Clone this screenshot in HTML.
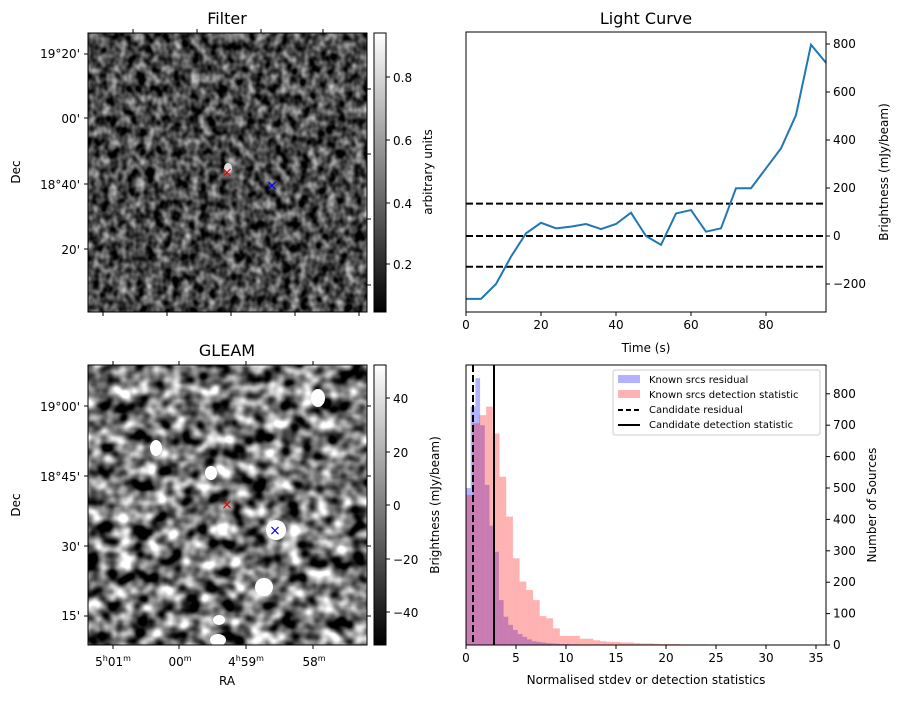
<!DOCTYPE html>
<html><head><meta charset="utf-8"><style>
body{margin:0;background:#fff;font-family:"Liberation Sans","DejaVu Sans",sans-serif;}
svg text{font-family:"DejaVu Sans","Liberation Sans",sans-serif;}
</style></head><body>
<svg id="fig" width="902" height="699" xmlns="http://www.w3.org/2000/svg">
<defs>
<filter id="fnoise" x="0" y="0" width="100%" height="100%" color-interpolation-filters="sRGB">
<feTurbulence type="fractalNoise" baseFrequency="0.11 0.095" numOctaves="2" seed="3"/>
<feColorMatrix type="matrix" values="1.25 0 0 0 -0.34  1.25 0 0 0 -0.34  1.25 0 0 0 -0.34  0 0 0 0 1"/>
</filter>
<filter id="gnoise" x="0" y="0" width="100%" height="100%" color-interpolation-filters="sRGB">
<feTurbulence type="fractalNoise" baseFrequency="0.06 0.065" numOctaves="2" seed="11"/>
<feColorMatrix type="matrix" values="2.2 0 0 0 -0.64  2.2 0 0 0 -0.64  2.2 0 0 0 -0.64  0 0 0 0 1"/>
</filter>
<linearGradient id="cb" x1="0" y1="1" x2="0" y2="0"><stop offset="0" stop-color="#000"/><stop offset="1" stop-color="#fff"/></linearGradient>
</defs>

<g>
<text x="227" y="24" font-size="16" text-anchor="middle">Filter</text>
<rect x="88" y="33" width="279" height="279" filter="url(#fnoise)"/>
<rect x="88" y="33" width="279" height="279" fill="none" stroke="#000"/>
<g font-size="12" text-anchor="end">
<text x="80" y="58">19°20'</text><text x="80" y="123">00'</text><text x="80" y="189">18°40'</text><text x="80" y="254">20'</text></g>
<text x="20" y="172" font-size="12" text-anchor="middle" transform="rotate(-90 20 172)">Dec</text>
<g stroke="#000">
<line x1="84" x2="88" y1="54" y2="54"/><line x1="84" x2="88" y1="118" y2="118"/><line x1="84" x2="88" y1="184" y2="184"/><line x1="84" x2="88" y1="249" y2="249"/>
<line x1="133" x2="133" y1="29" y2="33"/><line x1="197" x2="197" y1="29" y2="33"/><line x1="261" x2="261" y1="29" y2="33"/><line x1="323" x2="323" y1="29" y2="33"/>
<line x1="103" x2="103" y1="312" y2="316"/><line x1="167" x2="167" y1="312" y2="316"/><line x1="231" x2="231" y1="312" y2="316"/><line x1="295" x2="295" y1="312" y2="316"/><line x1="359" x2="359" y1="312" y2="316"/>
<line x1="367" x2="371" y1="89" y2="89"/><line x1="367" x2="371" y1="154" y2="154"/><line x1="367" x2="371" y1="219" y2="219"/><line x1="367" x2="371" y1="285" y2="285"/>
</g>
<ellipse cx="228" cy="168" rx="4" ry="5" fill="#ddd"/>
<g font-size="14">
<text x="227" y="177" fill="#e00" text-anchor="middle">×</text>
<text x="272" y="190" fill="#00e" text-anchor="middle">×</text></g>
<rect x="374" y="33" width="12" height="279" fill="url(#cb)" stroke="#000"/>
<g font-size="12">
<line x1="386" x2="390" y1="264" y2="264" stroke="#000"/><text x="393" y="269">0.2</text>
<line x1="386" x2="390" y1="203" y2="203" stroke="#000"/><text x="393" y="208">0.4</text>
<line x1="386" x2="390" y1="140" y2="140" stroke="#000"/><text x="393" y="145">0.6</text>
<line x1="386" x2="390" y1="77" y2="77" stroke="#000"/><text x="393" y="82">0.8</text></g>
<text x="432" y="172" font-size="12" text-anchor="middle" transform="rotate(-90 432 172)">arbitrary units</text>
</g>

<g>
<text x="227" y="356" font-size="16" text-anchor="middle">GLEAM</text>
<rect x="88" y="365" width="279" height="280" filter="url(#gnoise)"/>
<g fill="#fff">
<ellipse cx="318" cy="398" rx="7" ry="9"/><ellipse cx="156" cy="448" rx="6" ry="8"/><ellipse cx="211" cy="473" rx="6" ry="7"/>
<ellipse cx="276" cy="530" rx="10" ry="10"/><ellipse cx="264" cy="587" rx="9" ry="9"/><ellipse cx="218" cy="640" rx="8" ry="6"/><ellipse cx="219" cy="620" rx="6" ry="5"/></g>
<rect x="88" y="365" width="279" height="280" fill="none" stroke="#000"/>
<g font-size="12" text-anchor="end">
<text x="80" y="411">19°00'</text><text x="80" y="481">18°45'</text><text x="80" y="551">30'</text><text x="80" y="620">15'</text></g>
<text x="20" y="505" font-size="12" text-anchor="middle" transform="rotate(-90 20 505)">Dec</text>
<g font-size="12" text-anchor="middle">
<text x="113" y="666">5<tspan font-size="8" dy="-5">h</tspan><tspan dy="5">01</tspan><tspan font-size="8" dy="-5">m</tspan></text>
<text x="180" y="666">00<tspan font-size="8" dy="-5">m</tspan></text>
<text x="246" y="666">4<tspan font-size="8" dy="-5">h</tspan><tspan dy="5">59</tspan><tspan font-size="8" dy="-5">m</tspan></text>
<text x="314" y="666">58<tspan font-size="8" dy="-5">m</tspan></text></g>
<text x="227" y="685" font-size="12" text-anchor="middle">RA</text>
<g stroke="#000">
<line x1="84" x2="88" y1="406" y2="406"/><line x1="84" x2="88" y1="476" y2="476"/><line x1="84" x2="88" y1="546" y2="546"/><line x1="84" x2="88" y1="616" y2="616"/>
<line x1="367" x2="371" y1="406" y2="406"/><line x1="367" x2="371" y1="476" y2="476"/><line x1="367" x2="371" y1="546" y2="546"/><line x1="367" x2="371" y1="616" y2="616"/>
<line x1="113" x2="113" y1="645" y2="649"/><line x1="179" x2="179" y1="645" y2="649"/><line x1="246" x2="246" y1="645" y2="649"/><line x1="313" x2="313" y1="645" y2="649"/>
<line x1="113" x2="113" y1="361" y2="365"/><line x1="179" x2="179" y1="361" y2="365"/><line x1="246" x2="246" y1="361" y2="365"/><line x1="313" x2="313" y1="361" y2="365"/>
</g>
<g font-size="14">
<text x="227" y="509" fill="#e00" text-anchor="middle">×</text>
<text x="275" y="535" fill="#00e" text-anchor="middle">×</text></g>
<rect x="374" y="365" width="12" height="280" fill="url(#cb)" stroke="#000"/>
<g font-size="12">
<line x1="386" x2="390" y1="398" y2="398" stroke="#000"/><text x="393" y="403">40</text>
<line x1="386" x2="390" y1="452" y2="452" stroke="#000"/><text x="393" y="457">20</text>
<line x1="386" x2="390" y1="505" y2="505" stroke="#000"/><text x="393" y="510">0</text>
<line x1="386" x2="390" y1="559" y2="559" stroke="#000"/><text x="393" y="564">−20</text>
<line x1="386" x2="390" y1="612" y2="612" stroke="#000"/><text x="393" y="617">−40</text></g>
<text x="439" y="505" font-size="12" text-anchor="middle" transform="rotate(-90 439 505)">Brightness (mJy/beam)</text>
</g>

<g id="lc"></g>
<g id="hist"></g>
</svg>
<script>
const lcTimes=[0,4,8,12,16,20,24,28,32,36,40,44,48,52,56,60,64,68,72,76,80,84,88,92,96];
const lcValues=[-262,-262,-200,-86,11,55,32,39,50,29,50,97,0,-37,94,108,18,32,199,199,282,365,504,797,722];
const lcThresholds=[135,0,-128];
const lcYTicks=[-200,0,200,400,600,800];
const lcXTicks=[0,20,40,60,80];

const blueBinWidth=0.47;
const blueCounts=[500,759,850,700,510,380,297,143,90,64,48,35,26,18,12,10,8,6,5,4,3,3,2,2,1,1];
const redBinWidth=0.67;
const redCounts=[478,706,732,759,674,536,409,276,202,175,143,92,85,53,29,29,29,20,20,15,12,10,10,8,8,6,5,5,4,3,3,3,2,2,2,2,1,1,1,1,1,1,1,1,1,1,1,1,0,0,1];
const candResidual=0.7;
const candDetection=2.8;
const histXTicks=[0,5,10,15,20,25,30,35];
const histYTicks=[0,100,200,300,400,500,600,700,800];

const NS='http://www.w3.org/2000/svg';
function mk(parent,tag,attrs,txt){const e=document.createElementNS(NS,tag);for(const k in attrs)e.setAttribute(k,attrs[k]);if(txt!==undefined)e.textContent=txt;parent.appendChild(e);return e;}

(function(){
const g=document.getElementById('lc');
const L=466,R=826,T=32,B=312;
const xs=t=>L+(t-0)/(96-0)*(R-L);
const ys=v=>236-v*0.24;
mk(g,'text',{x:(L+R)/2,y:24,'font-size':16,'text-anchor':'middle',},'Light Curve');
lcThresholds.forEach(v=>{
 const l=mk(g,'line',{x1:L,x2:R,y1:ys(v),y2:ys(v),stroke:'#000','stroke-width':2,'stroke-dasharray':'7,3'});
 
 
});
const pts=lcTimes.map((t,i)=>xs(t)+','+ys(lcValues[i])).join(' ');
const pl=mk(g,'polyline',{points:pts,fill:'none',stroke:'#1f77b4','stroke-width':2});


mk(g,'rect',{x:L,y:T,width:R-L,height:B-T,fill:'none',stroke:'#000'});
lcXTicks.forEach(t=>{mk(g,'line',{x1:xs(t),x2:xs(t),y1:B,y2:B+4,stroke:'#000'});
 const tx=mk(g,'text',{x:xs(t),y:B+17,'font-size':12,'text-anchor':'middle'},String(t));
 
 });
lcYTicks.forEach(v=>{mk(g,'line',{x1:R,x2:R+4,y1:ys(v),y2:ys(v),stroke:'#000'});
 const tx=mk(g,'text',{x:R+7,y:ys(v)+4,'font-size':12},v<0?'−'+(-v):String(v));
 
 });
mk(g,'text',{x:(L+R)/2,y:352,'font-size':12,'text-anchor':'middle',},'Time (s)');
mk(g,'text',{x:888,y:172,'font-size':12,'text-anchor':'middle',transform:'rotate(-90 888 172)',},'Brightness (mJy/beam)');
})();

(function(){
const g=document.getElementById('hist');
const L=466,R=826,T=365,B=645;
const xs=v=>L+v*10;
const ys=c=>B-c*0.314;
blueCounts.forEach((c,i)=>{const r=mk(g,'rect',{x:xs(i*blueBinWidth),y:ys(c),width:blueBinWidth*10,height:c*0.314,fill:'#0000ff','fill-opacity':0.3});
 
 });
redCounts.forEach((c,i)=>{const r=mk(g,'rect',{x:xs(i*redBinWidth),y:ys(c),width:redBinWidth*10,height:c*0.314,fill:'#ff0000','fill-opacity':0.3});
 
 });
const d=mk(g,'line',{x1:xs(candResidual),x2:xs(candResidual),y1:T,y2:B,stroke:'#000','stroke-width':2,'stroke-dasharray':'7,3'});


const s=mk(g,'line',{x1:xs(candDetection),x2:xs(candDetection),y1:T,y2:B,stroke:'#000','stroke-width':2});


mk(g,'rect',{x:L,y:T,width:R-L,height:B-T,fill:'none',stroke:'#000'});
histXTicks.forEach(t=>{mk(g,'line',{x1:xs(t),x2:xs(t),y1:B,y2:B+4,stroke:'#000'});
 const tx=mk(g,'text',{x:xs(t),y:B+17,'font-size':12,'text-anchor':'middle'},String(t));
 
 });
histYTicks.forEach(v=>{mk(g,'line',{x1:R,x2:R+4,y1:ys(v),y2:ys(v),stroke:'#000'});
 const tx=mk(g,'text',{x:R+7,y:ys(v)+4,'font-size':12},String(v));
 
 });
mk(g,'text',{x:(L+R)/2,y:684,'font-size':12,'text-anchor':'middle',},'Normalised stdev or detection statistics');
mk(g,'text',{x:876,y:505,'font-size':12,'text-anchor':'middle',transform:'rotate(-90 876 505)',},'Number of Sources');
const lg=mk(g,'g',{});
mk(lg,'rect',{x:613,y:370,width:207,height:65,fill:'#fff','fill-opacity':0.8,stroke:'#ccc',rx:2});
mk(lg,'rect',{x:618,y:375,width:22,height:8,fill:'#0000ff','fill-opacity':0.3});
mk(lg,'text',{x:649,y:383,'font-size':10},'Known srcs residual');
mk(lg,'rect',{x:618,y:390,width:22,height:8,fill:'#ff0000','fill-opacity':0.3});
mk(lg,'text',{x:649,y:398,'font-size':10},'Known srcs detection statistic');
mk(lg,'line',{x1:618,x2:640,y1:410,y2:410,stroke:'#000','stroke-width':2,'stroke-dasharray':'5,3'});
mk(lg,'text',{x:649,y:413,'font-size':10},'Candidate residual');
mk(lg,'line',{x1:618,x2:640,y1:425,y2:425,stroke:'#000','stroke-width':2});
mk(lg,'text',{x:649,y:428,'font-size':10},'Candidate detection statistic');
})();
</script>
</body></html>
